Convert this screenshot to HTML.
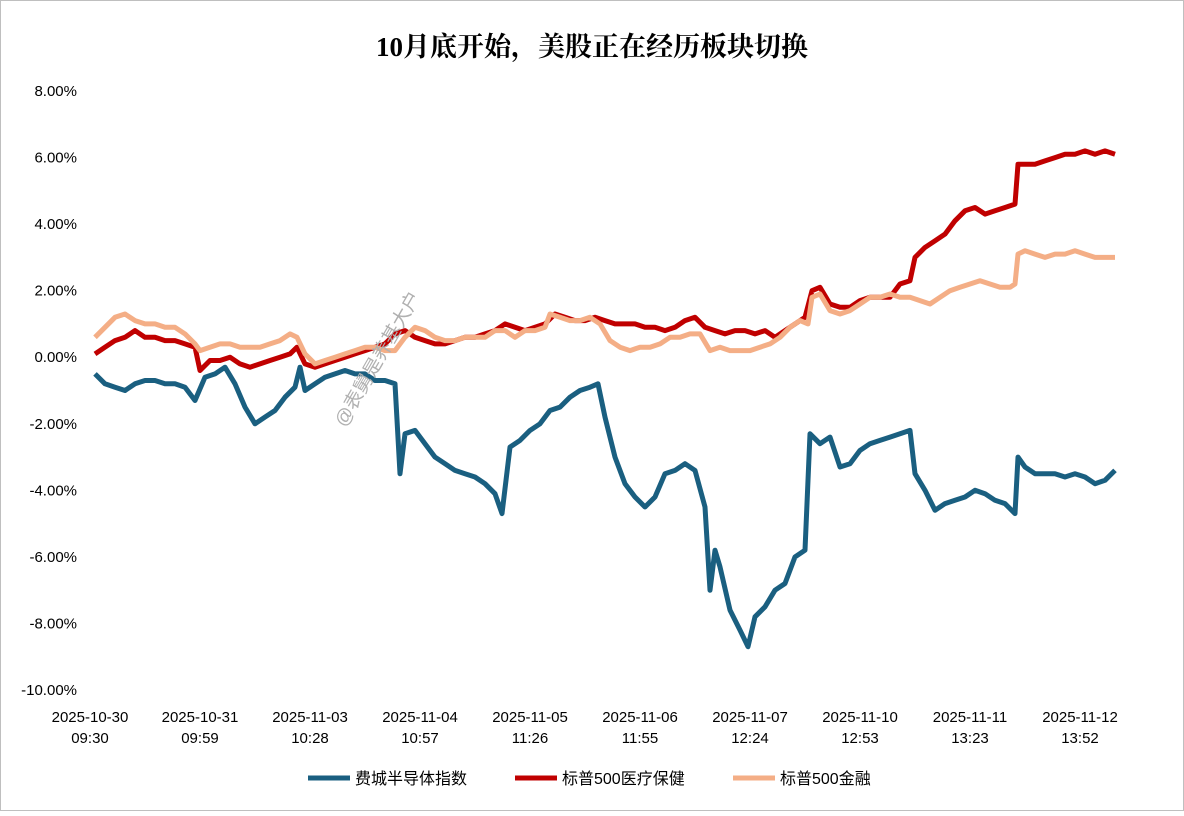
<!DOCTYPE html>
<html><head><meta charset="utf-8"><style>
body{margin:0;background:#fff;}
svg text{font-family:"Liberation Sans","Noto Sans CJK SC",sans-serif;}
</style></head><body>
<svg id="chart" width="1184" height="811" xmlns="http://www.w3.org/2000/svg">
<rect x="0.5" y="0.5" width="1183" height="810" fill="#fff" stroke="#bfbfbf"/>
<text x="592" y="56" text-anchor="middle" font-size="27" font-weight="bold" style="font-family:'Liberation Serif','Noto Serif CJK SC',serif">10月底开始，美股正在经历板块切换</text>
<g id="yaxis"></g>
<g id="xaxis"></g>
<g id="series"></g>
<text x="0" y="0" transform="translate(345,428) rotate(-60)" font-size="19" fill="#b0b0b0">@表舅是养基大户</text>
<g>
<g><line x1="308" y1="778" x2="350" y2="778" stroke="#1a5f80" stroke-width="5"/><text x="355" y="784" font-size="16">费城半导体指数</text></g>
<g><line x1="515" y1="778" x2="557" y2="778" stroke="#c00000" stroke-width="5"/><text x="562" y="784" font-size="16">标普500医疗保健</text></g>
<g><line x1="733" y1="778" x2="775" y2="778" stroke="#f4ae86" stroke-width="5"/><text x="780" y="784" font-size="16">标普500金融</text></g>
</g>
</svg>
<script>
const xTickDates=["2025-10-30","2025-10-31","2025-11-03","2025-11-04","2025-11-05","2025-11-06","2025-11-07","2025-11-10","2025-11-11","2025-11-12"];
const xTickTimes=["09:30","09:59","10:28","10:57","11:26","11:55","12:24","12:53","13:23","13:52"];
const yTicks=[8,6,4,2,0,-2,-4,-6,-8,-10];
const semiTime=[5,15,25,35,45,55,65,75,85,95,105,115,125,135,145,155,165,175,185,195,205,210,215,225,235,245,255,265,275,285,295,305,310,315,325,335,345,355,365,375,385,395,405,412,420,430,440,450,460,470,480,490,500,508,515,525,535,545,555,565,575,585,595,605,615,620,625,630,640,650,658,665,675,685,695,705,715,720,730,740,750,760,770,780,790,800,810,820,825,835,845,855,865,875,885,895,905,915,925,928,935,945,955,965,975,985,995,1005,1015,1025];
const semiVals=[-0.5,-0.8,-0.9,-1.0,-0.8,-0.7,-0.7,-0.8,-0.8,-0.9,-1.3,-0.6,-0.5,-0.3,-0.8,-1.5,-2.0,-1.8,-1.6,-1.2,-0.9,-0.3,-1.0,-0.8,-0.6,-0.5,-0.4,-0.5,-0.5,-0.7,-0.7,-0.8,-3.5,-2.3,-2.2,-2.6,-3.0,-3.2,-3.4,-3.5,-3.6,-3.8,-4.1,-4.7,-2.7,-2.5,-2.2,-2.0,-1.6,-1.5,-1.2,-1.0,-0.9,-0.8,-1.8,-3.0,-3.8,-4.2,-4.5,-4.2,-3.5,-3.4,-3.2,-3.4,-4.5,-7.0,-5.8,-6.3,-7.6,-8.2,-8.7,-7.8,-7.5,-7.0,-6.8,-6.0,-5.8,-2.3,-2.6,-2.4,-3.3,-3.2,-2.8,-2.6,-2.5,-2.4,-2.3,-2.2,-3.5,-4.0,-4.6,-4.4,-4.3,-4.2,-4.0,-4.1,-4.3,-4.4,-4.7,-3.0,-3.3,-3.5,-3.5,-3.5,-3.6,-3.5,-3.6,-3.8,-3.7,-3.4];
const healthTime=[5,15,25,35,45,55,65,75,85,95,105,110,120,130,140,150,160,170,180,190,200,207,215,225,235,245,255,265,275,285,295,305,315,325,335,345,355,365,375,385,395,405,415,425,435,445,455,465,475,485,495,505,515,525,535,545,555,565,575,585,595,605,615,625,635,645,655,665,675,685,695,705,715,722,730,740,750,760,770,780,790,800,810,820,825,835,845,855,865,875,885,895,905,915,925,928,935,945,955,965,975,985,995,1005,1015,1025];
const healthVals=[0.1,0.3,0.5,0.6,0.8,0.6,0.6,0.5,0.5,0.4,0.3,-0.4,-0.1,-0.1,0.0,-0.2,-0.3,-0.2,-0.1,0.0,0.1,0.3,-0.2,-0.3,-0.2,-0.1,0.0,0.1,0.2,0.3,0.4,0.7,0.8,0.6,0.5,0.4,0.4,0.5,0.6,0.6,0.7,0.8,1.0,0.9,0.8,0.9,1.0,1.3,1.2,1.1,1.1,1.2,1.1,1.0,1.0,1.0,0.9,0.9,0.8,0.9,1.1,1.2,0.9,0.8,0.7,0.8,0.8,0.7,0.8,0.6,0.8,1.0,1.2,2.0,2.1,1.6,1.5,1.5,1.7,1.8,1.8,1.8,2.2,2.3,3.0,3.3,3.5,3.7,4.1,4.4,4.5,4.3,4.4,4.5,4.6,5.8,5.8,5.8,5.9,6.0,6.1,6.1,6.2,6.1,6.2,6.1];
const finTime=[5,15,25,35,45,55,65,75,85,95,105,110,120,130,140,150,160,170,180,190,200,207,215,225,235,245,255,265,275,285,295,305,315,325,335,345,355,365,375,385,395,405,415,425,435,445,455,460,470,480,490,500,510,520,530,540,550,560,570,580,590,600,610,620,630,640,650,660,670,680,690,700,710,718,722,730,740,750,760,770,780,790,800,810,820,830,840,850,860,870,880,890,900,910,920,925,928,935,945,955,965,975,985,995,1005,1015,1025];
const finVals=[0.6,0.9,1.2,1.3,1.1,1.0,1.0,0.9,0.9,0.7,0.4,0.2,0.3,0.4,0.4,0.3,0.3,0.3,0.4,0.5,0.7,0.6,0.1,-0.2,-0.1,0.0,0.1,0.2,0.3,0.3,0.2,0.2,0.6,0.9,0.8,0.6,0.5,0.5,0.6,0.6,0.6,0.8,0.8,0.6,0.8,0.8,0.9,1.3,1.2,1.1,1.1,1.2,1.0,0.5,0.3,0.2,0.3,0.3,0.4,0.6,0.6,0.7,0.7,0.2,0.3,0.2,0.2,0.2,0.3,0.4,0.6,0.9,1.1,1.0,1.8,1.9,1.4,1.3,1.4,1.6,1.8,1.8,1.9,1.8,1.8,1.7,1.6,1.8,2.0,2.1,2.2,2.3,2.2,2.1,2.1,2.2,3.1,3.2,3.1,3.0,3.1,3.1,3.2,3.1,3.0,3.0,3.0];

const NS="http://www.w3.org/2000/svg";
const X0=90,X1=1120,TMAX=1030,Y0=91,Y1=690,VMAX=8,VMIN=-10;
const xs=t=>X0+(t/TMAX)*(X1-X0);
const ys=v=>Y0+(VMAX-v)/(VMAX-VMIN)*(Y1-Y0);
const yg=document.getElementById('yaxis');
yTicks.forEach(v=>{
  const t=document.createElementNS(NS,'text');
  t.setAttribute('x',77);t.setAttribute('y',ys(v)+5);
  t.setAttribute('text-anchor','end');t.setAttribute('font-size','15');
  t.textContent=v.toFixed(2)+'%';
  
  
  yg.appendChild(t);
});
const xg=document.getElementById('xaxis');
xTickDates.forEach((d,i)=>{
  const t=document.createElementNS(NS,'text');
  const x=xs(i*110);
  t.setAttribute('text-anchor','middle');t.setAttribute('font-size','15');
  t.innerHTML='<tspan x="'+x+'" y="722">'+d+'</tspan><tspan x="'+x+'" y="743">'+xTickTimes[i]+'</tspan>';
  
  
  xg.appendChild(t);
});
const sg=document.getElementById('series');
function line(T,V,color,name){
  const p=document.createElementNS(NS,'polyline');
  p.setAttribute('points',T.map((t,i)=>xs(t).toFixed(1)+','+ys(V[i]).toFixed(1)).join(' '));
  p.setAttribute('fill','none');p.setAttribute('stroke',color);
  p.setAttribute('stroke-width','5');p.setAttribute('stroke-linejoin','round');
  
  
  sg.appendChild(p);
}
line(semiTime,semiVals,'#1a5f80','line-semiconductor');
line(healthTime,healthVals,'#c00000','line-healthcare');
line(finTime,finVals,'#f4ae86','line-financials');
</script>
</body></html>
